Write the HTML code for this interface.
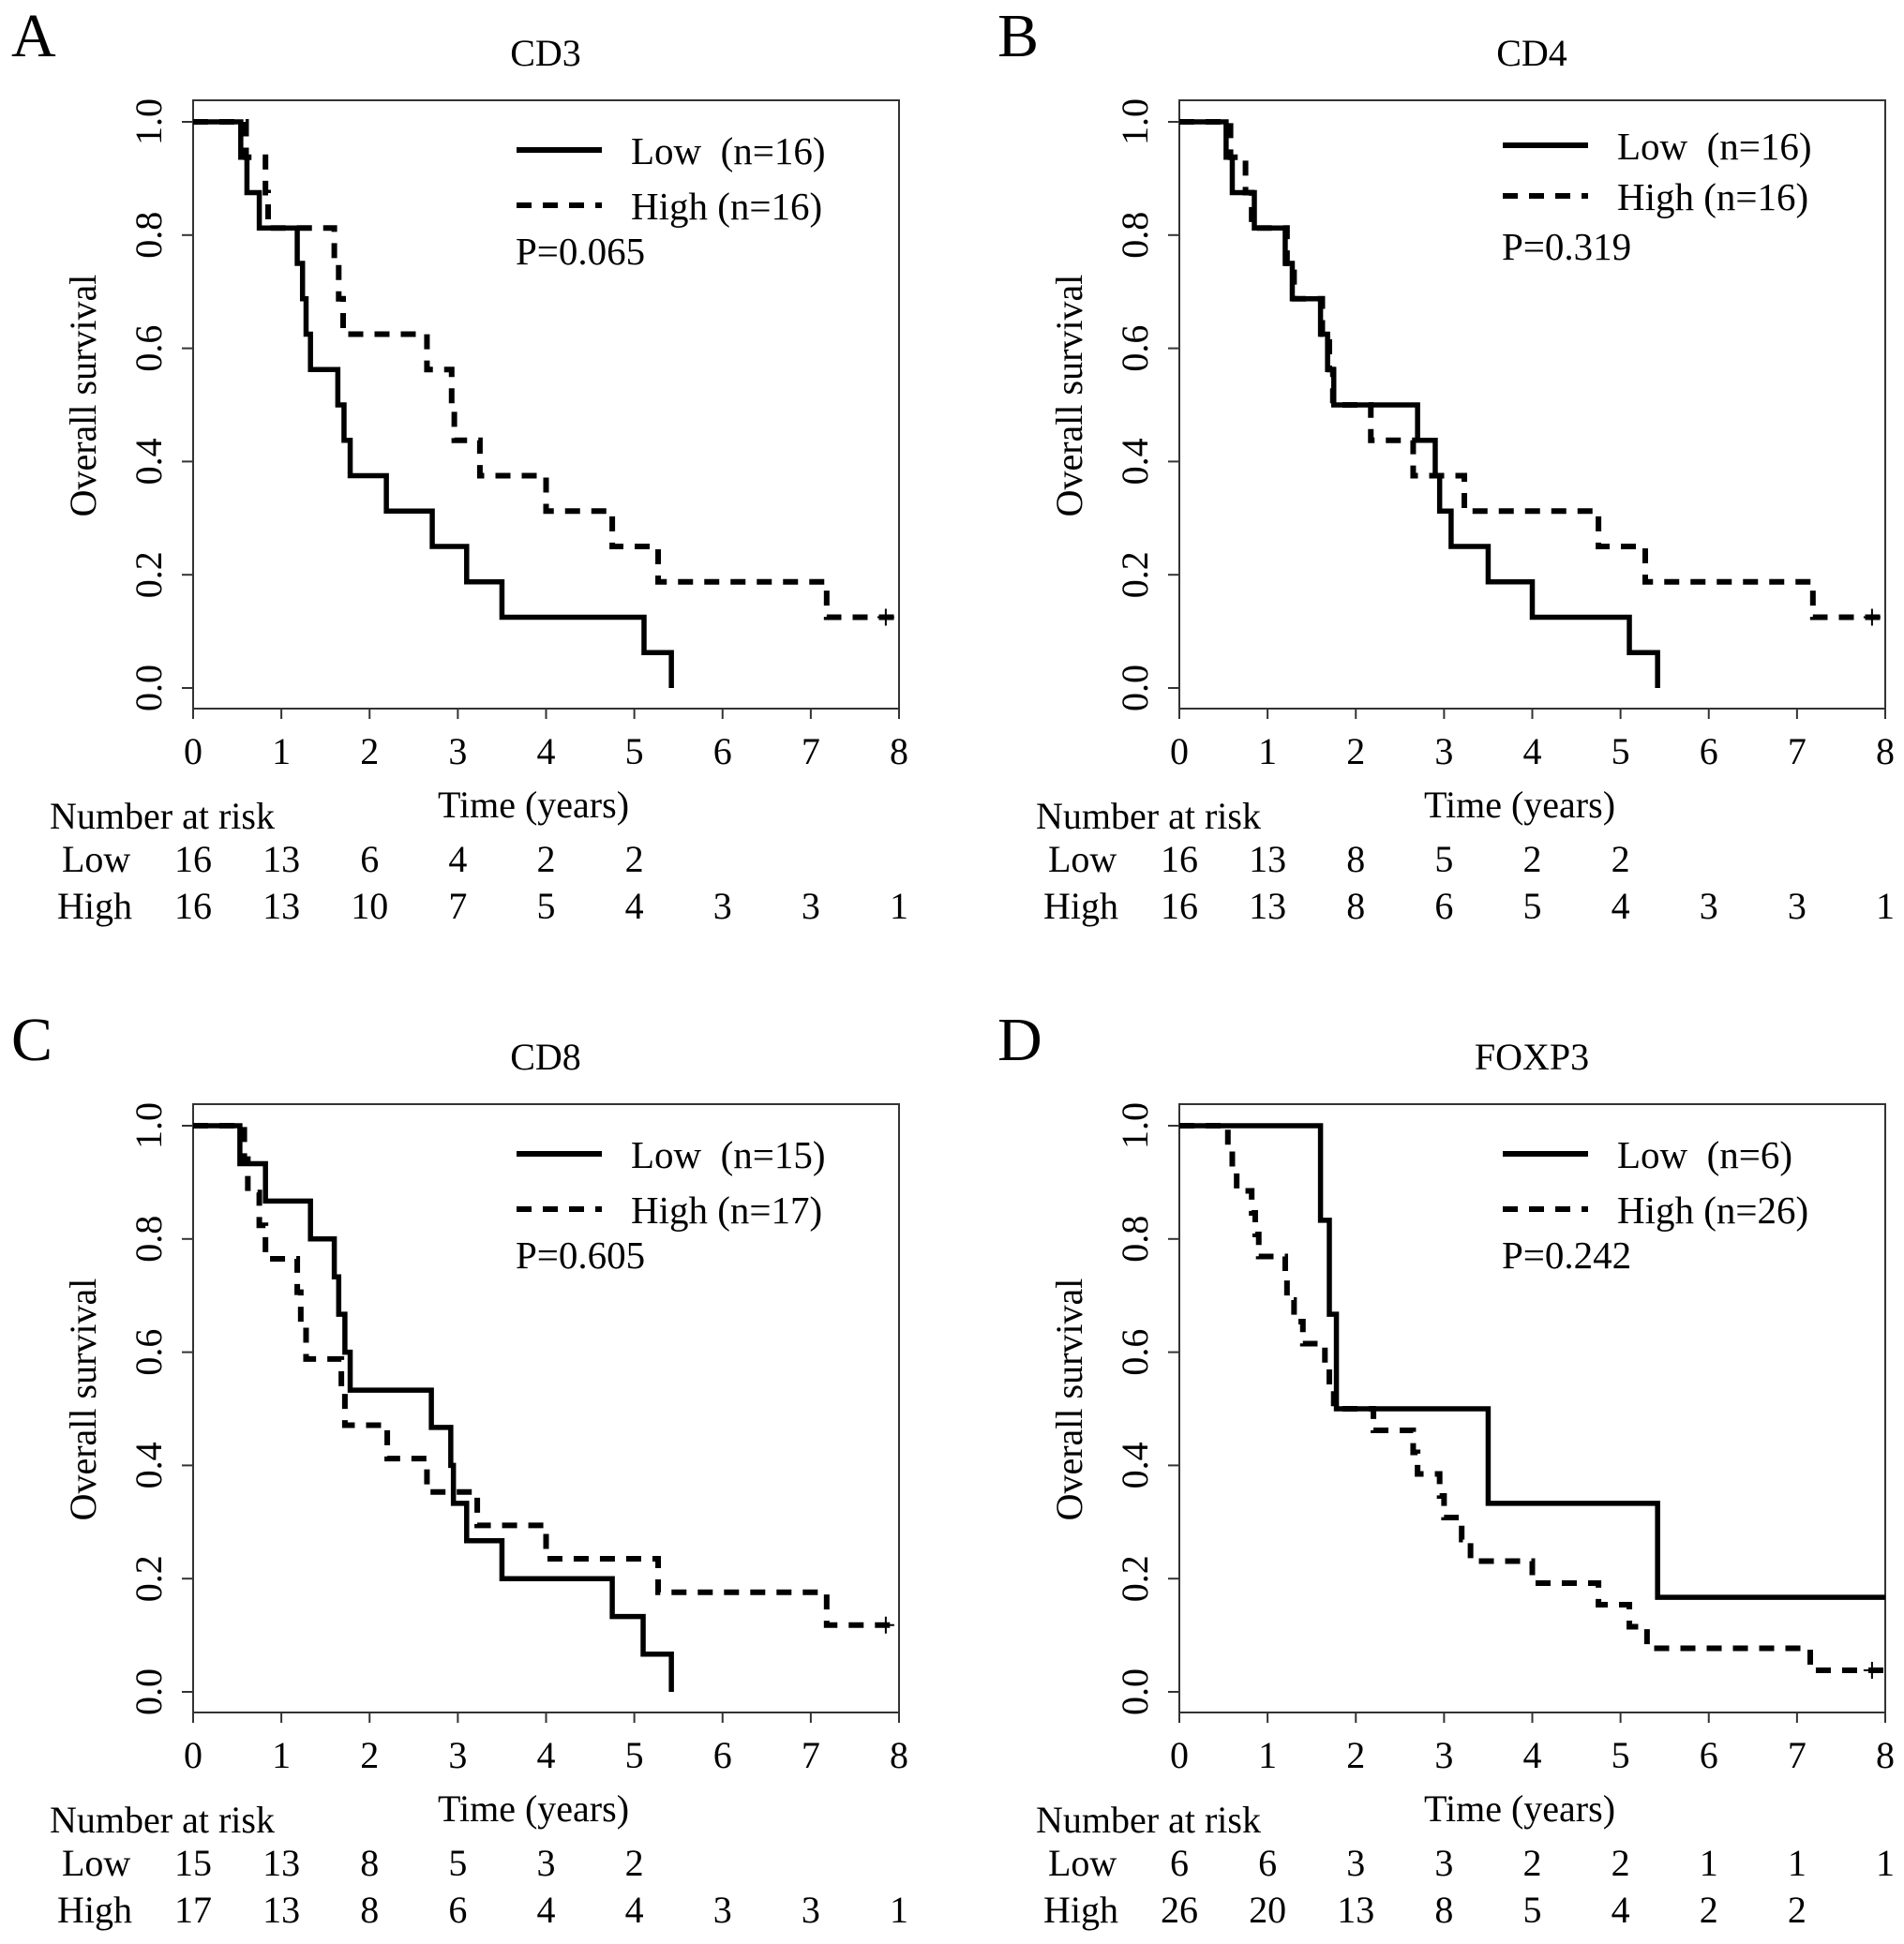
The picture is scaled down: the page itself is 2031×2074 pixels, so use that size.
<!DOCTYPE html>
<html><head><meta charset="utf-8"><style>
html,body{margin:0;padding:0;background:#fff;}
svg{display:block;font-family:"Liberation Serif","DejaVu Serif",serif;}
text{white-space:pre;}
</style></head><body>
<svg id="fig" width="2031" height="2074" viewBox="0 0 2031 2074" xmlns="http://www.w3.org/2000/svg"></svg>
<script>
// ---- Data ----
const tickYears = [0,1,2,3,4,5,6,7,8];
const tickSurv = [0.0,0.2,0.4,0.6,0.8,1.0];

const aLowT = [0.54,0.61,0.75,1.18,1.24,1.28,1.33,1.64,1.71,1.78,2.19,2.71,3.1,3.5,5.11,5.42];
const aLowS = [0.9375,0.875,0.8125,0.75,0.6875,0.625,0.5625,0.5,0.4375,0.375,0.3125,0.25,0.1875,0.125,0.0625,0];
const aHighT = [0.6,0.82,0.85,1.6,1.65,1.7,2.65,2.93,2.96,3.25,4.0,4.75,5.27,7.18];
const aHighS = [0.9375,0.875,0.8125,0.75,0.6875,0.625,0.5625,0.5,0.4375,0.375,0.3125,0.25,0.1875,0.125];
const aRiskLow = [16,13,6,4,2,2];
const aRiskHigh = [16,13,10,7,5,4,3,3,1];

const bLowT = [0.53,0.6,0.85,1.2,1.28,1.6,1.68,1.75,2.7,2.9,2.95,3.08,3.5,4.0,5.1,5.42];
const bLowS = [0.9375,0.875,0.8125,0.75,0.6875,0.625,0.5625,0.5,0.4375,0.375,0.3125,0.25,0.1875,0.125,0.0625,0];
const bHighT = [0.58,0.75,0.82,1.22,1.3,1.62,1.7,1.74,2.17,2.65,3.23,4.75,5.28,7.18];
const bHighS = [0.9375,0.875,0.8125,0.75,0.6875,0.625,0.5625,0.5,0.4375,0.375,0.3125,0.25,0.1875,0.125];
const bRiskLow = [16,13,8,5,2,2];
const bRiskHigh = [16,13,8,6,5,4,3,3,1];

const cLowT = [0.53,0.82,1.33,1.6,1.65,1.72,1.78,2.7,2.92,2.95,3.1,3.5,4.75,5.1,5.42];
const cLowS = [0.933,0.867,0.8,0.733,0.667,0.6,0.533,0.467,0.4,0.333,0.267,0.2,0.133,0.0667,0];
const cHighT = [0.58,0.62,0.75,0.82,1.18,1.22,1.28,1.68,1.72,2.2,2.65,3.22,4.0,5.27,7.18];
const cHighS = [0.941,0.882,0.824,0.765,0.706,0.647,0.588,0.529,0.471,0.412,0.353,0.294,0.235,0.176,0.118];
const cRiskLow = [15,13,8,5,3,2];
const cRiskHigh = [17,13,8,6,4,4,3,3,1];

const dLowT = [1.6,1.7,1.78,3.5,5.42];
const dLowS = [0.833,0.667,0.5,0.333,0.167];
const dHighT = [0.55,0.6,0.65,0.82,0.86,0.9,1.2,1.22,1.3,1.4,1.65,1.7,1.75,2.2,2.65,2.7,2.95,3.0,3.2,3.3,4.0,4.75,5.1,5.3,7.15];
const dHighS = [0.962,0.923,0.885,0.846,0.808,0.769,0.731,0.692,0.654,0.615,0.577,0.538,0.5,0.462,0.423,0.385,0.346,0.308,0.269,0.231,0.192,0.154,0.115,0.077,0.038];
const dRiskLow = [6,6,3,3,2,2,1,1,1];
const dRiskHigh = [26,20,13,8,5,4,2,2];

const NS = "http://www.w3.org/2000/svg";
const svg = document.getElementById('fig');
function mk(tag, attrs, parent, txt){
  const e = document.createElementNS(NS, tag);
  for (const k in attrs) e.setAttribute(k, attrs[k]);
  if (txt !== undefined) e.textContent = txt;
  parent.appendChild(e);
  return e;
}
function pathFor(T,S,endT,xs,ys){
  let d = 'M'+xs(0)+','+ys(1);
  for (let i=0;i<T.length;i++){ d += ' H'+xs(T[i])+' V'+ys(S[i]); }
  if (endT !== null) d += ' H'+xs(endT);
  return d;
}
function panel(cfg){
  const g = mk('g',{transform:'translate('+cfg.ox+','+cfg.oy+')'},svg);
  
  
  const L=206,R=959,T=107,B=756,Y1=130,Y0=734;
  const xs = t => L + t*(R-L)/8;
  const ys = s => Y0 - s*(Y0-Y1);
  const letter = mk('text',{x:12,y:60,'font-size':66},g,cfg.letter);
  
  
  const title = mk('text',{x:582,y:70,'font-size':40,'text-anchor':'middle'},g,cfg.title);
  
  
  const box = mk('rect',{x:L,y:T,width:R-L,height:B-T,fill:'none',stroke:'#333','stroke-width':2},g);
  
  
  tickSurv.forEach(v=>{
    mk('line',{x1:L-12,x2:L,y1:ys(v),y2:ys(v),stroke:'#333','stroke-width':2},g);
    const t = mk('text',{x:0,y:0,'font-size':40,'text-anchor':'middle',transform:'translate(172,'+ys(v)+') rotate(-90)'},g,v.toFixed(1));
    
    
  });
  tickYears.forEach(v=>{
    mk('line',{x1:xs(v),x2:xs(v),y1:B,y2:B+11,stroke:'#333','stroke-width':2},g);
    const t = mk('text',{x:xs(v),y:815,'font-size':40,'text-anchor':'middle'},g,String(v));
    
    
  });
  const yl = mk('text',{x:0,y:0,'font-size':40,'text-anchor':'middle',transform:'translate(102,422) rotate(-90)'},g,'Overall survival');
  
  
  const xl = mk('text',{x:569,y:872,'font-size':40,'text-anchor':'middle'},g,'Time (years)');
  
  
  const pl = mk('path',{d:pathFor(cfg.lowT,cfg.lowS,cfg.lowEnd,xs,ys),fill:'none',stroke:'#000','stroke-width':5.5},g);
  
  
  const ph = mk('path',{d:pathFor(cfg.highT,cfg.highS,8,xs,ys),fill:'none',stroke:'#000','stroke-width':6,'stroke-dasharray':'16 12'},g);
  
  
  const cy = ys(cfg.highS[cfg.highS.length-1]), cx = xs(7.85);
  const cens = mk('path',{d:'M'+(cx-9)+','+cy+' H'+(cx+9)+' M'+cx+','+(cy-9)+' V'+(cy+9),stroke:'#000','stroke-width':2},g);
  
  
  const dy = cfg.legDy||0, dy2 = cfg.legDy2||0;
  const lg = mk('g',{},g);
  
  
  mk('line',{x1:551,x2:642,y1:160+dy,y2:160+dy,stroke:'#000','stroke-width':6},lg);
  mk('text',{x:673,y:175+dy,'font-size':41},lg,'Low  (n='+cfg.nLow+')');
  mk('line',{x1:551,x2:642,y1:219+dy2,y2:219+dy2,stroke:'#000','stroke-width':6,'stroke-dasharray':'16 12'},lg);
  mk('text',{x:673,y:234+dy2,'font-size':41},lg,'High (n='+cfg.nHigh+')');
  const pv = mk('text',{x:550,y:282+dy,'font-size':41},g,'P='+cfg.p);
  
  
  const rt = mk('g',{},g);
  
  
  mk('text',{x:53,y:884,'font-size':40},rt,'Number at risk');
  mk('text',{x:66,y:930,'font-size':40},rt,'Low');
  mk('text',{x:61,y:980,'font-size':40},rt,'High');
  cfg.riskLow.forEach((n,i)=>{ mk('text',{x:xs(tickYears[i]),y:930,'font-size':40,'text-anchor':'middle'},rt,String(n)); });
  cfg.riskHigh.forEach((n,i)=>{ mk('text',{x:xs(tickYears[i]),y:980,'font-size':40,'text-anchor':'middle'},rt,String(n)); });
}
panel({ox:0,oy:0,letter:'A',title:'CD3',lowT:aLowT,lowS:aLowS,lowEnd:null,highT:aHighT,highS:aHighS,nLow:16,nHigh:16,p:'0.065',riskLow:aRiskLow,riskHigh:aRiskHigh});
panel({ox:1052,oy:0,letter:'B',title:'CD4',lowT:bLowT,lowS:bLowS,lowEnd:null,highT:bHighT,highS:bHighS,nLow:16,nHigh:16,p:'0.319',riskLow:bRiskLow,riskHigh:bRiskHigh,legDy:-5,legDy2:-10});
panel({ox:0,oy:1071,letter:'C',title:'CD8',lowT:cLowT,lowS:cLowS,lowEnd:null,highT:cHighT,highS:cHighS,nLow:15,nHigh:17,p:'0.605',riskLow:cRiskLow,riskHigh:cRiskHigh});
panel({ox:1052,oy:1071,letter:'D',title:'FOXP3',lowT:dLowT,lowS:dLowS,lowEnd:8,highT:dHighT,highS:dHighS,nLow:6,nHigh:26,p:'0.242',riskLow:dRiskLow,riskHigh:dRiskHigh});
</script>
</body></html>
